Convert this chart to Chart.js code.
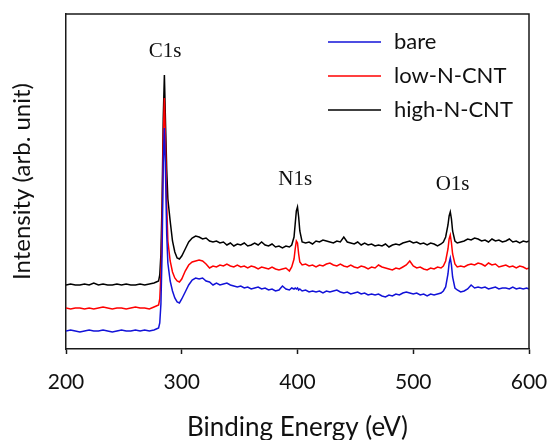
<!DOCTYPE html>
<html>
<head>
<meta charset="utf-8">
<script src="https://cdn.jsdelivr.net/npm/chart.js@4"></script>
<style>
  html, body { margin: 0; padding: 0; background: #fff; }
</style>
</head>
<body>
<canvas id="xpsChart" width="547" height="440"></canvas>
<script>
// Binding energy grid (eV), finer around the C1s, N1s and O1s peaks
const energies = [
  200, 204, 208, 212, 216, 220, 224, 228, 232, 236, 240, 244, 248, 252, 256, 260, 264, 268, 272, 276,
  278, 280, 281, 282, 283, 284, 285, 286, 287, 288, 290, 292, 294, 296, 298, 300,
  303, 306, 309, 312, 315, 318, 321, 324, 327, 330, 333, 336, 339, 342, 345, 348, 351, 354, 357, 360,
  363, 366, 369, 372, 375, 378, 381, 384, 387, 390, 393,
  395, 397, 398, 399, 400, 401, 402, 404,
  407, 410, 413, 416, 419, 422, 425, 428, 431, 434, 437, 440, 443, 446, 449, 452, 455, 458, 461, 464,
  467, 470, 473, 476, 479, 482, 485, 488, 491, 494, 497, 500, 503, 506, 509, 512, 515, 518, 521, 524,
  526, 528, 530, 531, 532, 533, 534, 536, 538,
  541, 544, 547, 550, 553, 556, 559, 562, 565, 568, 571, 574, 577, 580, 583, 586, 589, 592, 595, 598, 600
];

// Intensities (arb. unit), offset traces as in the figure
const bare = [
  18, 19, 18, 17, 18, 19, 18, 18, 19, 18, 17, 18, 19, 18, 18, 19, 18, 19, 18, 19,
  20, 21, 26, 45, 95, 185, 221, 175, 115, 86, 68, 58, 51, 47, 46, 50,
  57, 64, 69, 71, 70, 71, 68, 67, 64, 66, 64, 65, 66, 64, 63, 62, 63, 61, 62, 60,
  61, 62, 60, 61, 59, 60, 58, 59, 63, 60, 59,
  61, 60, 61, 60, 61, 59, 60, 58,
  59, 57, 58, 57, 58, 56, 58, 57, 58, 59, 57, 56, 57, 55, 56, 57, 55, 56, 54, 55,
  54, 55, 53, 52, 54, 53, 55, 54, 56, 57, 56, 55, 56, 54, 55, 53, 55, 54, 55, 56,
  58, 62, 75, 86, 91, 84, 72, 61, 59,
  57, 58, 60, 64, 61, 62, 61, 62, 60, 61, 62, 60, 61, 61, 60, 62, 60, 61, 60, 61, 60
];

const lowNCNT = [
  41, 40, 41, 41, 40, 41, 40, 41, 42, 41, 40, 41, 41, 40, 41, 42, 41, 41, 40, 42,
  43, 44, 50, 75, 125, 210, 251, 205, 145, 108, 88, 77, 71, 68, 67, 70,
  78, 84, 87, 88, 89, 88, 85, 81, 83, 82, 84, 83, 85, 83, 82, 84, 82, 83, 81, 83,
  82, 80, 82, 81, 80, 82, 80, 79, 80, 81, 78,
  82, 90, 100, 108, 106, 95, 87, 84,
  85, 83, 84, 82, 84, 83, 85, 86, 84, 83, 85, 83, 82, 84, 82, 81, 83, 82, 80, 82,
  81, 84, 82, 81, 80, 79, 81, 80, 82, 84, 88, 83, 81, 82, 80, 79, 81, 80, 82, 81,
  83, 88, 100, 110, 114, 106, 95, 85, 82,
  83, 82, 84, 85, 84, 86, 85, 83, 86, 84, 85, 82, 83, 84, 82, 83, 81, 83, 82, 80, 81
];

const highNCNT = [
  64, 65, 64, 64, 65, 64, 66, 64, 65, 64, 64, 65, 64, 65, 64, 64, 65, 64, 65, 66,
  67, 68, 74, 95, 146, 230, 274, 225, 180, 150, 128, 108, 97, 91, 90, 93,
  100, 107, 111, 113, 112, 110, 111, 108, 107, 108, 106, 107, 104, 106, 103, 105, 104, 106, 103, 104,
  106, 104, 107, 104, 103, 105, 102, 103, 101, 103, 102,
  104, 112, 125, 138, 142, 132, 118, 107,
  106, 107, 105, 108, 107, 109, 108, 107, 106, 108, 107, 112, 107, 106, 105, 107, 104, 106, 104, 105,
  103, 104, 103, 105, 102, 104, 105, 104, 106, 107, 108, 106, 107, 105, 106, 104, 106, 105, 103, 105,
  107, 112, 124, 133, 137, 130, 118, 108, 106,
  107, 108, 110, 109, 111, 110, 108, 109, 107, 110, 108, 109, 107, 108, 110, 107, 108, 106, 108, 107, 108
];

const seriesNames = ["bare", "low-N-CNT", "high-N-CNT"];
const seriesColors = ["#1212d8", "#ff0000", "#000000"];
const xTicks = [200, 300, 400, 500, 600];

// Peak annotations: label, energy (eV), intensity where the text sits
const peakLabels = ["C1s", "N1s", "O1s"];
const peakEnergies = [285.5, 398, 534];
const peakLabelLevels = [292, 164, 159];

const toPoints = (values) => values.map((v, i) => ({ x: energies[i], y: v }));

// Top and right frame lines
const framePlugin = {
  id: "frame",
  afterDraw(chart) {
    const { ctx, chartArea: a } = chart;
    ctx.save();
    ctx.strokeStyle = "#1a1a1a";
    ctx.lineWidth = 1.5;
    ctx.beginPath();
    ctx.moveTo(a.left, a.top);
    ctx.lineTo(a.right, a.top);
    ctx.lineTo(a.right, a.bottom);
    ctx.stroke();
    ctx.restore();
  }
};

// Peak names in serif, above each peak
const peakLabelPlugin = {
  id: "peakLabels",
  afterDraw(chart) {
    const { ctx, scales } = chart;
    ctx.save();
    ctx.fillStyle = "#111";
    ctx.font = "21px 'Liberation Serif', serif";
    ctx.textAlign = "center";
    ctx.textBaseline = "alphabetic";
    peakLabels.forEach((label, i) => {
      ctx.fillText(label, scales.x.getPixelForValue(peakEnergies[i]), scales.y.getPixelForValue(peakLabelLevels[i]));
    });
    ctx.restore();
  }
};

// Legend inside the plot, top right
const legendPlugin = {
  id: "insideLegend",
  afterDraw(chart) {
    const { ctx } = chart;
    ctx.save();
    ctx.font = "22px Lato, sans-serif";
    ctx.textBaseline = "middle";
    ctx.fillStyle = "#111";
    seriesNames.forEach((name, i) => {
      const y = 42 + i * 34;
      ctx.strokeStyle = seriesColors[i];
      ctx.lineWidth = 1.5;
      ctx.beginPath();
      ctx.moveTo(328, y);
      ctx.lineTo(381, y);
      ctx.stroke();
      ctx.fillText(name, 394, y);
    });
    ctx.restore();
  }
};

const ctx = document.getElementById("xpsChart").getContext("2d");
new Chart(ctx, {
  type: "line",
  data: {
    datasets: [bare, lowNCNT, highNCNT].map((values, i) => ({
      label: seriesNames[i],
      data: toPoints(values),
      borderColor: seriesColors[i],
      borderWidth: 1.5,
      pointRadius: 0,
      tension: 0,
      fill: false
    }))
  },
  options: {
    responsive: false,
    animation: false,
    devicePixelRatio: 1,
    layout: { padding: { top: 14, right: 18, left: 0, bottom: 0 } },
    plugins: {
      legend: { display: false },
      tooltip: { enabled: false }
    },
    scales: {
      x: {
        type: "linear",
        min: 200,
        max: 600,
        afterBuildTicks: (scale) => { scale.ticks = xTicks.map((v) => ({ value: v })); },
        afterFit: (scale) => {
          scale.height = 91;
          scale.paddingLeft = 0;
          scale.paddingRight = 0;
        },
        ticks: {
          color: "#111",
          font: { family: "Lato", size: 21 },
          padding: 16,
          maxRotation: 0
        },
        grid: {
          display: true,
          drawOnChartArea: false,
          drawTicks: true,
          tickLength: 5,
          tickColor: "#1a1a1a",
          tickWidth: 1.5
        },
        border: { display: true, color: "#1a1a1a", width: 1.5 },
        title: {
          display: true,
          text: "Binding Energy (eV)",
          color: "#111",
          font: { family: "Lato", size: 26 },
          padding: { top: 0, bottom: -3 }
        }
      },
      y: {
        min: 0,
        max: 335,
        afterFit: (scale) => { scale.width = 66; },
        ticks: { display: false },
        grid: { display: false },
        border: { display: true, color: "#1a1a1a", width: 1.5 },
        title: {
          display: true,
          text: "Intensity (arb. unit)",
          color: "#111",
          font: { family: "Lato", size: 24 },
          padding: { top: 8, bottom: 0 }
        }
      }
    }
  },
  plugins: [framePlugin, peakLabelPlugin, legendPlugin]
});
</script>
</body>
</html>
